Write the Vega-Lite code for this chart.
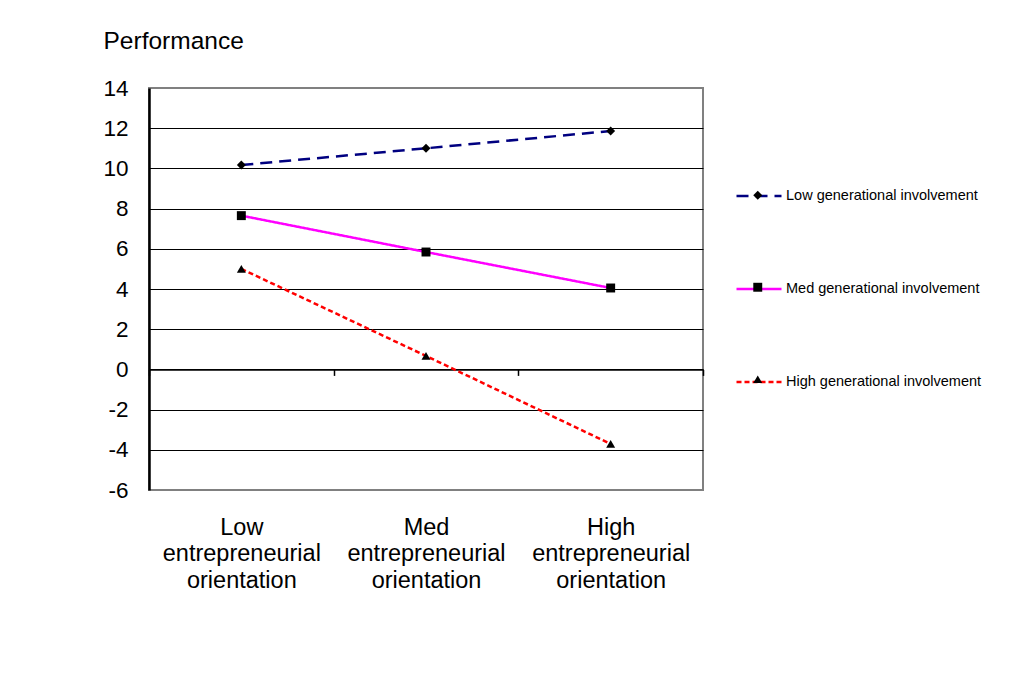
{
  "$schema": "https://vega.github.io/schema/vega-lite/v6.json",
  "width": 554,
  "height": 402,
  "autosize": "none",
  "padding": {"left": 149, "top": 88, "right": 326, "bottom": 193},
  "background": "white",
  "config": {
    "font": "Liberation Sans",
    "view": {"stroke": "#808080", "strokeWidth": 2}
  },
  "data": {
    "values": [
      {"orientation": "Low entrepreneurial orientation", "series": "Low generational involvement", "performance": 10.17},
      {"orientation": "Med entrepreneurial orientation", "series": "Low generational involvement", "performance": 11.0},
      {"orientation": "High entrepreneurial orientation", "series": "Low generational involvement", "performance": 11.86},
      {"orientation": "Low entrepreneurial orientation", "series": "Med generational involvement", "performance": 7.65},
      {"orientation": "Med entrepreneurial orientation", "series": "Med generational involvement", "performance": 5.84},
      {"orientation": "High entrepreneurial orientation", "series": "Med generational involvement", "performance": 4.05},
      {"orientation": "Low entrepreneurial orientation", "series": "High generational involvement", "performance": 5.0},
      {"orientation": "Med entrepreneurial orientation", "series": "High generational involvement", "performance": 0.67},
      {"orientation": "High entrepreneurial orientation", "series": "High generational involvement", "performance": -3.71}
    ]
  },
  "layer": [
    {
      "mark": {"type": "line", "strokeWidth": 2.5},
      "encoding": {
        "x": {
          "field": "orientation",
          "type": "nominal",
          "sort": ["Low entrepreneurial orientation", "Med entrepreneurial orientation", "High entrepreneurial orientation"],
          "scale": {"type": "band", "paddingInner": 0, "paddingOuter": 0},
          "axis": {
            "title": null,
            "orient": "bottom",
            "offset": -120.6,
            "domain": true,
            "domainColor": "black",
            "domainWidth": 1.5,
            "ticks": true,
            "tickBand": "extent",
            "tickColor": "black",
            "tickSize": 6,
            "tickWidth": 1.5,
            "labelAngle": 0,
            "labelFontSize": 23.5,
            "labelColor": "black",
            "labelPadding": 140,
            "labelBaseline": "top",
            "labelLineHeight": 26.5,
            "labelExpr": "split(datum.label, ' ')",
            "grid": false
          }
        },
        "y": {
          "field": "performance",
          "type": "quantitative",
          "scale": {"domain": [-6, 14], "nice": false, "zero": false},
          "axis": {
            "values": [-6, -4, -2, 0, 2, 4, 6, 8, 10, 12, 14],
            "labelExpr": "toString(datum.value)",
            "title": "Performance",
            "titleAngle": 0,
            "titleAlign": "left",
            "titleBaseline": "alphabetic",
            "titleX": -46,
            "titleY": -40,
            "titleFontSize": 24.5,
            "titleFontWeight": "normal",
            "titleColor": "black",
            "domain": true,
            "domainColor": "black",
            "domainWidth": 2.5,
            "ticks": false,
            "tickSize": 0,
            "labelFontSize": 22.5,
            "labelColor": "black",
            "labelPadding": 21,
            "grid": true,
            "gridColor": {"condition": {"test": "datum.value == 14 || datum.value == -6", "value": "#808080"}, "value": "black"},
            "gridWidth": 1.2
          }
        },
        "color": {
          "field": "series",
          "type": "nominal",
          "scale": {
            "domain": ["Low generational involvement", "Med generational involvement", "High generational involvement"],
            "range": ["#000080", "#FF00FF", "#FF0000"]
          },
          "legend": {
            "orient": "none",
            "legendX": 586,
            "legendY": 84,
            "title": null,
            "padding": 0,
            "symbolType": "stroke",
            "symbolSize": 2025,
            "symbolStrokeWidth": 2.5,
            "labelFontSize": 14.5,
            "labelColor": "black",
            "labelOffset": 3,
            "labelLimit": 0,
            "rowPadding": 62
          }
        },
        "strokeDash": {
          "field": "series",
          "type": "nominal",
          "scale": {
            "domain": ["Low generational involvement", "Med generational involvement", "High generational involvement"],
            "range": [[12, 7], [1, 0], [5, 3]]
          }
        }
      }
    },
    {
      "mark": {"type": "point", "filled": true, "opacity": 1, "size": 80, "color": "black"},
      "encoding": {
        "x": {
          "field": "orientation",
          "type": "nominal",
          "sort": ["Low entrepreneurial orientation", "Med entrepreneurial orientation", "High entrepreneurial orientation"]
        },
        "y": {"field": "performance", "type": "quantitative"},
        "shape": {
          "field": "series",
          "type": "nominal",
          "sort": ["Low generational involvement", "Med generational involvement", "High generational involvement"],
          "scale": {"range": ["diamond", "square", "triangle-up"]},
          "legend": {
            "orient": "none",
            "legendX": 601.5,
            "legendY": 100,
            "title": null,
            "padding": 0,
            "symbolSize": 80,
            "symbolFillColor": "black",
            "symbolStrokeColor": "black",
            "symbolOpacity": 1,
            "labelFontSize": 14.5,
            "labelExpr": "''",
            "labelOffset": 5,
            "rowPadding": 76
          }
        }
      }
    }
  ]
}
